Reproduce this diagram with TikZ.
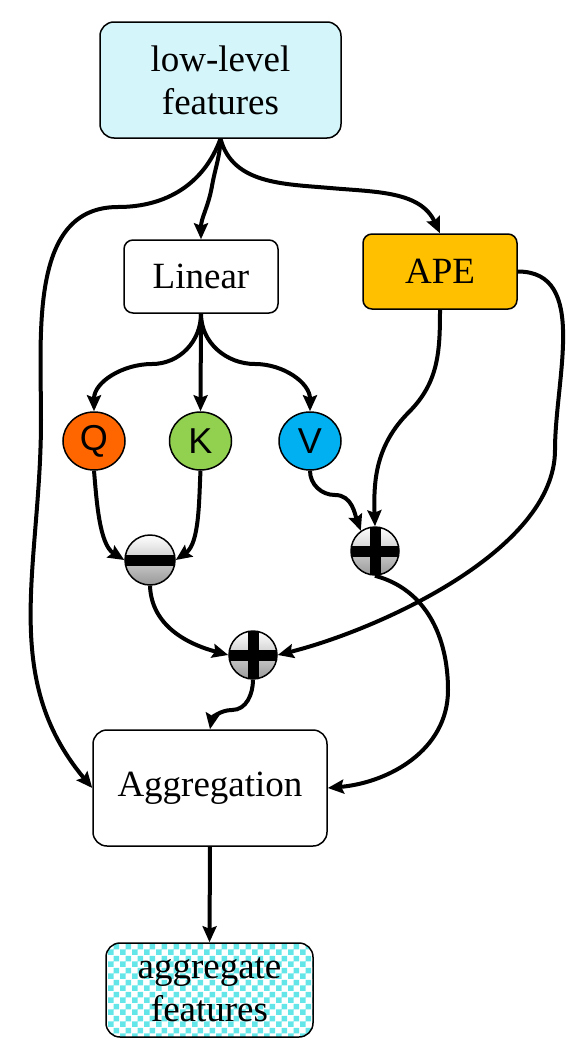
\documentclass[tikz,border=0pt]{standalone}
\usepackage{fontspec}
\setmainfont{Liberation Serif}
\newfontfamily\qkvfont{Liberation Sans}
\usetikzlibrary{arrows.meta,patterns,shapes.geometric}

\definecolor{lowcyan}{RGB}{212,245,249}
\definecolor{apeyellow}{RGB}{255,192,0}
\definecolor{qorange}{RGB}{255,102,0}
\definecolor{kgreen}{RGB}{146,208,80}
\definecolor{vblue}{RGB}{0,176,240}
\definecolor{checkcyan}{RGB}{100,230,232}

% checker with bigger squares than the patterns library one
\pgfdeclarepatternformonly{bigchecker}{\pgfpointorigin}{\pgfqpoint{12pt}{12pt}}{\pgfqpoint{12pt}{12pt}}{%
  \pgfpathrectangle{\pgfpointorigin}{\pgfqpoint{6pt}{6pt}}%
  \pgfpathrectangle{\pgfqpoint{6pt}{6pt}}{\pgfqpoint{6pt}{6pt}}%
  \pgfusepath{fill}}

\tikzset{
  box/.style={draw, line width=1.5pt, rounded corners=14pt, align=center, inner sep=0pt,
    font=\fontsize{37}{43}\selectfont},
  qkv/.style={ellipse, draw, line width=1.5pt, minimum width=62pt, minimum height=58pt,
    inner sep=0pt, font=\qkvfont\fontsize{36}{40}\selectfont},
  op/.style={circle, draw, line width=1.5pt, minimum size=48pt, inner sep=0pt,
    top color=white, bottom color=black!40},
  opminus/.style={op, path picture={
    \fill ([yshift=-5.5pt]path picture bounding box.west) rectangle ([yshift=5.5pt]path picture bounding box.east);}},
  opplus/.style={op, path picture={
    \fill ([yshift=-5.5pt]path picture bounding box.west) rectangle ([yshift=5.5pt]path picture bounding box.east);
    \fill ([xshift=-5.5pt]path picture bounding box.south) rectangle ([xshift=5.5pt]path picture bounding box.north);}},
  conn/.style={line width=4pt, -{Stealth[length=16pt,width=14pt,inset=2.5pt]}}
}

\begin{document}
\begin{tikzpicture}[x=1pt, y=1pt]
\useasboundingbox (0,0) rectangle (579,-1063);

\node[box, fill=lowcyan, minimum width=241pt, minimum height=116pt] (low) at (220.5,-80) {low-level\\features};
\node[box, rounded corners=9pt, minimum width=154pt, minimum height=73pt] (lin) at (201,-276.5) {Linear};
\node[box, rounded corners=9pt, fill=apeyellow, minimum width=154pt, minimum height=75pt] (ape) at (440,-271.5) {APE};

\node[qkv, fill=qorange] (q) at (94,-441) {Q};
\node[qkv, fill=kgreen] (k) at (200.5,-441) {K};
\node[qkv, fill=vblue] (v) at (310,-441) {V};

\node[opminus, minimum size=50pt] (sub) at (150,-560) {};
\node[opplus] (addv) at (375,-551) {};
\node[opplus] (add) at (253,-655) {};

\node[box, minimum width=234pt, minimum height=116pt] (agg) at (210,-788) {Aggregation};
\node[box, fill=white, pattern=bigchecker, pattern color=checkcyan,
  minimum width=207pt, minimum height=94pt] (out) at (209.5,-990) {aggregate\\features};

% from the low-level features
\draw[conn] (low.south) to[out=-92,in=80] (212,-186) to[out=-100,in=90] (lin.north);
\draw[conn] (low.south) to[out=-75,in=175] (330,-188) to[out=-5,in=115] (ape.north);
\draw[conn] (low.south) to[out=-110,in=0] (118,-207) to[out=180,in=90] (41,-420)
  to[out=-90,in=130] (agg.west);

% linear to Q, K, V
\draw[conn] (lin.south) to[out=-90,in=0] (152,-364) to[out=180,in=90] (q.north);
\draw[conn] (lin.south) -- (k.north);
\draw[conn] (lin.south) to[out=-90,in=180] (255,-364) to[out=0,in=90] (v.north);

% Q - K
\draw[conn] (q.south) to[out=-85,in=148,looseness=0.8] (sub.west);
\draw[conn] (k.south) to[out=-93,in=35,looseness=0.8] (sub.east);

% V + APE
\draw[conn] (v.south) to[out=-90,in=180] (335,-495) to[out=0,in=110] (addv.125);
\draw[conn] (ape.south) to[out=-90,in=45] (409,-412) to[out=-135,in=92] (addv.north);

% (Q - K) + APE
\draw[conn] (sub.south) to[out=-88,in=165] (add.west);
\draw[conn] (ape.east) to[out=0,in=90] (555,-450) to[out=-90,in=14,looseness=0.75] (add.east);

% into the aggregation
\draw[conn] (add.south) to[out=-90,in=0] (232,-710) to[out=180,in=80] (agg.north);
\draw[conn] (addv.south) to[out=-15,in=90] (448,-690) to[out=-90,in=5] (agg.east);
\draw[conn] (agg.south) -- (out.north);
\end{tikzpicture}
\end{document}
